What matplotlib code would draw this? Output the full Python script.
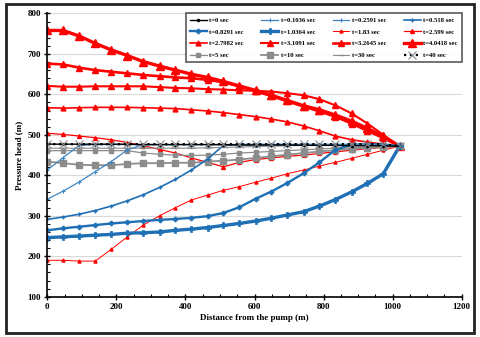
import matplotlib
matplotlib.use("Agg")
import matplotlib.pyplot as plt
from matplotlib.ticker import MultipleLocator

# ---------------- data ----------------
x = [0, 46, 93, 139, 185, 232, 278, 325, 371, 417, 464, 510,
     556, 603, 649, 695, 742, 788, 834, 881, 927, 973, 1020]

t0      = [477, 477, 477, 477, 477, 477, 476, 476, 476, 476, 476, 476,
           475, 475, 475, 475, 474, 474, 474, 473, 473, 473, 472]
t0_1036 = [413, 444, 474, 476, 476, 476, 476, 476, 476, 476, 476, 476,
           476, 476, 476, 476, 476, 476, 476, 476, 476, 476, 472]
t0_2591 = [341, 361, 384, 409, 434, 463, 476, 476, 476, 476, 476, 476,
           476, 476, 476, 476, 476, 476, 476, 476, 476, 476, 472]
t0_518  = [291, 297, 304, 313, 324, 337, 352, 370, 390, 413, 440, 474,
           476, 476, 476, 476, 476, 476, 476, 476, 476, 476, 472]
t0_8291 = [264, 269, 273, 277, 281, 284, 287, 290, 292, 295, 299, 307,
           321, 342, 360, 381, 405, 432, 463, 476, 476, 476, 472]
t1_0364 = [246, 248, 250, 252, 254, 257, 258, 260, 264, 267, 271, 276,
           281, 287, 294, 302, 310, 324, 340, 359, 380, 404, 472]
t1_83   = [190, 190, 188, 188, 217, 248, 277, 300, 320, 339, 351, 363,
           372, 383, 393, 404, 413, 423, 432, 442, 452, 462, 472]
t2_599  = [504, 501, 497, 493, 488, 481, 473, 464, 455, 443, 432, 421,
           432, 439, 443, 447, 450, 454, 458, 462, 466, 469, 472]
t2_7982 = [567, 566, 567, 568, 568, 568, 567, 566, 565, 562, 559, 555,
           550, 545, 539, 532, 522, 510, 497, 488, 482, 477, 472]
t3_1091 = [621, 619, 619, 620, 620, 620, 620, 618, 616, 615, 613, 612,
           610, 609, 607, 603, 598, 588, 573, 553, 528, 500, 472]
t3_2645 = [676, 674, 666, 660, 656, 652, 648, 645, 642, 640, 636, 630,
           620, 608, 596, 583, 570, 558, 545, 528, 510, 492, 472]
t4_0418 = [758, 758, 744, 726, 710, 696, 681, 670, 660, 650, 642, 632,
           621, 610, 598, 585, 572, 562, 549, 534, 516, 496, 472]
t5      = [461, 461, 461, 461, 461, 461, 455, 452, 450, 449, 450, 452,
           455, 457, 459, 461, 463, 465, 467, 468, 470, 471, 472]
t10     = [434, 430, 426, 425, 425, 428, 430, 430, 431, 431, 434, 436,
           439, 443, 447, 451, 455, 459, 462, 465, 468, 470, 472]
t30     = [467, 467, 467, 467, 467, 467, 467, 467, 467, 467, 468, 469,
           470, 471, 472, 473, 474, 475, 476, 476, 475, 474, 472]
t40     = [477, 477, 477, 477, 477, 477, 477, 477, 477, 477, 477, 477,
           477, 477, 477, 477, 477, 477, 477, 477, 477, 477, 472]

labels = ["t=0 sec", "t=0.1036 sec", "t=0.2591 sec", "t=0.518 sec",
          "t=0.8291 sec", "t=1.0364 sec", "t=1.83 sec", "t=2.599 sec",
          "t=2.7982 sec", "t=3.1091 sec", "t=3.2645 sec", "t=4.0418 sec",
          "t=5 sec", "t=10 sec", "t=30 sec", "t=40 sec"]
series = [t0, t0_1036, t0_2591, t0_518, t0_8291, t1_0364, t1_83, t2_599,
          t2_7982, t3_1091, t3_2645, t4_0418, t5, t10, t30, t40]

BLUE = "#1F6FB4"
LBLUE = "#3C86C4"
RED = "#FF0000"
GRAY = "#8C8C8C"
styles = [
    dict(color="black", lw=1.0, marker="o", ms=1.5),
    dict(color=LBLUE, lw=0.9, marker="+", ms=2.5, mew=0.8),
    dict(color=LBLUE, lw=0.9, marker="+", ms=2.5, mew=0.8),
    dict(color=BLUE, lw=1.2, marker="+", ms=3, mew=1.0),
    dict(color=BLUE, lw=1.7, marker="P", ms=3.5, mew=0.5),
    dict(color=BLUE, lw=2.4, marker="P", ms=4.5, mew=0.5),
    dict(color=RED, lw=0.7, marker="^", ms=2.2),
    dict(color=RED, lw=0.9, marker="^", ms=2.8),
    dict(color=RED, lw=1.2, marker="^", ms=3.5),
    dict(color=RED, lw=1.5, marker="^", ms=4.0),
    dict(color=RED, lw=1.9, marker="^", ms=5.0),
    dict(color=RED, lw=2.4, marker="^", ms=6.0),
    dict(color=GRAY, lw=0.9, marker="s", ms=2.2),
    dict(color=GRAY, lw=1.3, marker="s", ms=3.8),
    dict(color=GRAY, lw=0.8, marker="_", ms=3),
    dict(color="black", lw=1.6, ls=":", marker="x", ms=6, mec=GRAY, mew=0.8),
]

plt.rcParams["font.family"] = ["Liberation Serif", "DejaVu Serif"]
plt.rcParams["font.weight"] = "bold"

fig = plt.figure(figsize=(4.8, 3.37), dpi=100)
ax = fig.add_axes([0.0985, 0.1196, 0.8635, 0.8404])

order = [11, 10, 9, 8, 7, 6, 13, 12, 14, 5, 4, 3, 2, 1, 0, 15]
handles = [None] * len(series)
for i in order:
    h, = ax.plot(x, series[i], label=labels[i], **styles[i])
    handles[i] = h

ax.set_xlim(0, 1200)
ax.set_ylim(100, 800)
ax.xaxis.set_major_locator(MultipleLocator(200))
ax.xaxis.set_minor_locator(MultipleLocator(50))
ax.yaxis.set_major_locator(MultipleLocator(100))
ax.yaxis.set_minor_locator(MultipleLocator(20))
ax.tick_params(which="major", direction="inout", length=5, width=1.0,
               labelsize=6.5, pad=2)
ax.tick_params(which="minor", direction="in", length=2.5, width=0.8)
for lab in ax.get_xticklabels() + ax.get_yticklabels():
    lab.set_fontweight("bold")
ax.grid(axis="y", color="#D9D9D9", lw=0.8)
ax.set_axisbelow(True)
for s in ["top", "right"]:
    ax.spines[s].set_visible(False)
for s in ["left", "bottom"]:
    ax.spines[s].set_linewidth(1.2)

ax.set_xlabel("Distance from the pump (m)", fontsize=6.5, fontweight="bold",
              labelpad=2)
ax.set_ylabel("Pressure head (m)", fontsize=6.5, fontweight="bold",
              labelpad=3)

# legend filled row by row (4 columns)
ncol = 4
nrow = 4
leg_order = [r * ncol + c for c in range(ncol) for r in range(nrow)]
leg = ax.legend(handles=[handles[k] for k in leg_order],
                labels=[labels[k] for k in leg_order], ncol=ncol, mode="expand",
                bbox_to_anchor=(0.335, 0.793, 0.665, 0.207), loc="upper left",
                fontsize=4.8, frameon=True, fancybox=False, borderaxespad=0,
                handlelength=2.5, handletextpad=0.4, labelspacing=0.9,
                columnspacing=0.5, borderpad=0.6)
leg.get_frame().set_edgecolor("#404040")
leg.get_frame().set_linewidth(1.3)
for txt in leg.get_texts():
    txt.set_fontweight("bold")

# outer frame around the whole figure
fig.patches.append(plt.Rectangle((0.012, 0.012), 0.976, 0.976,
                                 transform=fig.transFigure, fill=False,
                                 edgecolor="#222222", lw=2.0))

fig.savefig("out.png", dpi=100)
